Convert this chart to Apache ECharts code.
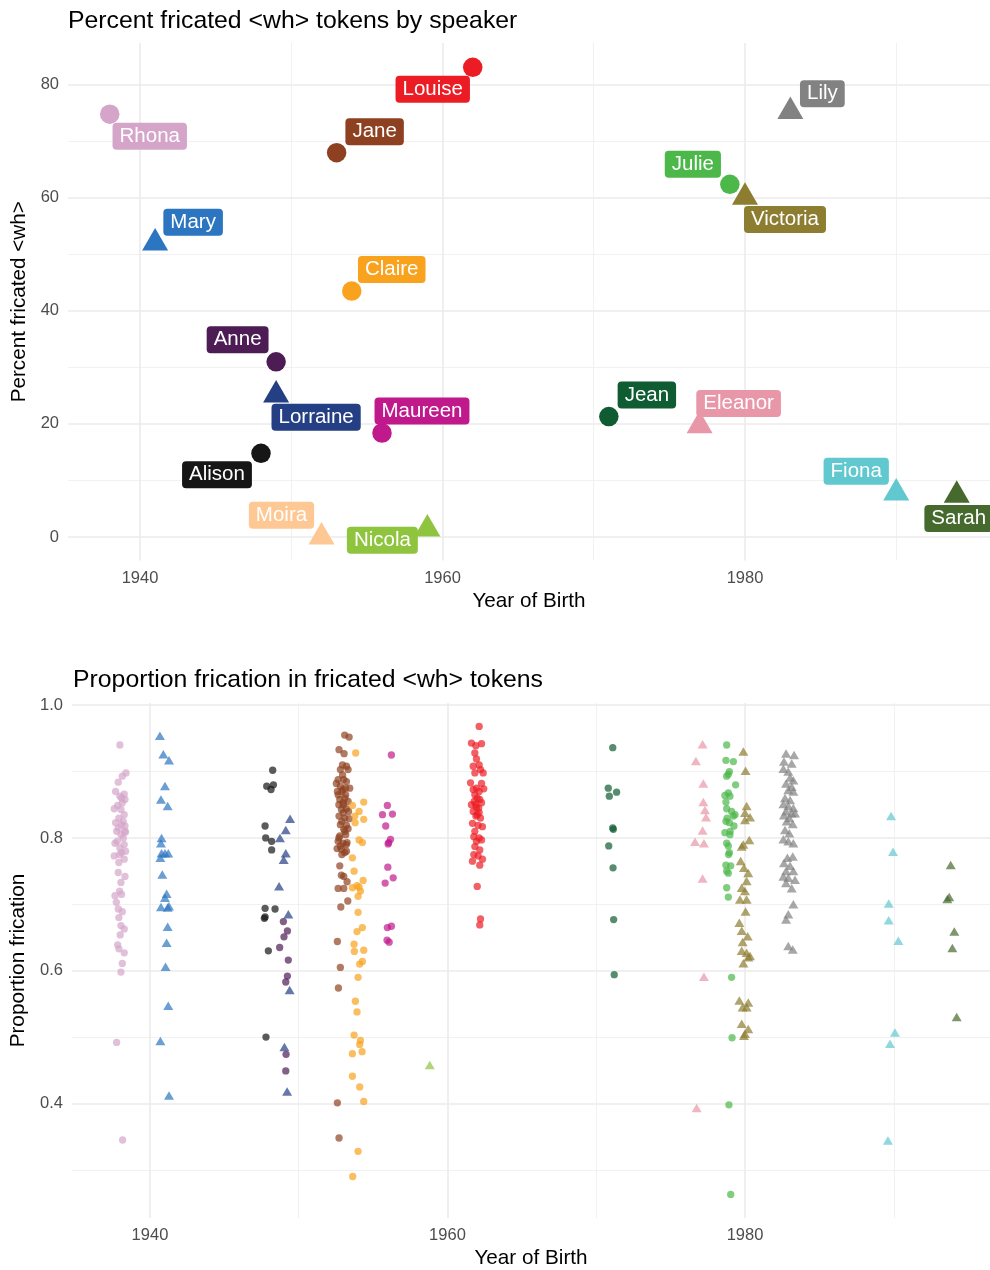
<!DOCTYPE html>
<html>
<head>
<meta charset="utf-8">
<script src="https://cdn.jsdelivr.net/npm/echarts@6/dist/echarts.min.js"></script>
<style>
  html, body { margin: 0; padding: 0; background: #fff; }
  #main { width: 990px; height: 1270px; }
</style>
</head>
<body>
<div id="main"></div>
<script>
// speakers, year of birth and percent fricated <wh> tokens (top panel)
var speakers = ['Rhona', 'Mary', 'Jane', 'Louise', 'Claire', 'Anne', 'Lorraine', 'Alison', 'Maureen',
  'Moira', 'Nicola', 'Jean', 'Eleanor', 'Julie', 'Victoria', 'Lily', 'Fiona', 'Sarah'];
var birthYear = [1938, 1941, 1953, 1962, 1954, 1949, 1949, 1948, 1956, 1952, 1959, 1971, 1977, 1979, 1980, 1983, 1990, 1994];
var percentFricated = [74.8, 52.0, 68.0, 83.1, 43.5, 31.0, 25.1, 14.8, 18.4, 0.0, 1.4, 21.3, 19.7, 62.4, 60.1, 75.3, 7.8, 7.4];
var speakerShape = ['circle', 'triangle', 'circle', 'circle', 'circle', 'circle', 'triangle', 'circle', 'circle',
  'triangle', 'triangle', 'circle', 'triangle', 'circle', 'triangle', 'triangle', 'triangle', 'triangle'];

// proportion frication per fricated token: [jittered year, proportion]
var tokensRhona = [[1937.98,0.940],[1938.39,0.898],[1938.14,0.893],[1937.87,0.884],[1937.69,0.870],[1938.27,0.866],[1937.98,0.863],[1938.32,0.858],[1938.14,0.853],[1937.83,0.849],[1937.60,0.844],[1938.05,0.843],[1938.27,0.835],[1937.91,0.830],[1937.69,0.823],[1938.09,0.820],[1938.32,0.818],[1937.87,0.815],[1937.76,0.810],[1938.36,0.809],[1938.05,0.805],[1938.21,0.800],[1937.65,0.792],[1938.27,0.790],[1937.98,0.785],[1938.36,0.780],[1938.09,0.778],[1937.60,0.773],[1938.27,0.768],[1937.91,0.763],[1937.87,0.748],[1938.32,0.742],[1938.05,0.733],[1937.96,0.720],[1937.65,0.713],[1938.09,0.715],[1937.74,0.703],[1937.87,0.693],[1938.14,0.689],[1937.91,0.680],[1938.05,0.668],[1938.27,0.663],[1938.00,0.654],[1937.83,0.639],[1937.91,0.633],[1938.27,0.627],[1938.14,0.611],[1938.05,0.598],[1937.76,0.492],[1938.16,0.345],[1938.20,0.825],[1937.80,0.795],[1938.10,0.860],[1937.95,0.775],[1938.30,0.810]];
var tokensMary = [[1940.67,0.952],[1940.90,0.924],[1941.28,0.915],[1941.01,0.876],[1940.74,0.856],[1941.19,0.846],[1940.78,0.798],[1940.74,0.790],[1940.78,0.775],[1940.70,0.768],[1941.01,0.775],[1941.23,0.775],[1940.83,0.743],[1941.12,0.714],[1941.01,0.708],[1940.74,0.694],[1941.19,0.693],[1941.28,0.695],[1941.19,0.664],[1941.12,0.640],[1941.05,0.604],[1941.23,0.545],[1940.70,0.492],[1941.28,0.410]];
var tokensJane = [[1953.09,0.955],[1953.39,0.952],[1952.71,0.933],[1953.05,0.927],[1952.94,0.910],[1953.21,0.908],[1952.80,0.903],[1953.32,0.903],[1952.65,0.888],[1953.03,0.888],[1952.53,0.882],[1953.21,0.885],[1952.80,0.878],[1953.43,0.875],[1952.98,0.873],[1952.65,0.865],[1953.16,0.865],[1952.76,0.858],[1953.32,0.855],[1952.98,0.853],[1952.87,0.843],[1953.21,0.844],[1952.71,0.833],[1953.09,0.830],[1953.39,0.829],[1952.80,0.820],[1953.21,0.819],[1953.03,0.813],[1953.32,0.814],[1952.76,0.803],[1953.16,0.805],[1952.65,0.795],[1952.98,0.792],[1953.25,0.793],[1952.58,0.784],[1952.87,0.783],[1953.09,0.778],[1953.21,0.780],[1952.80,0.788],[1952.76,0.758],[1952.87,0.744],[1953.03,0.742],[1953.25,0.734],[1952.65,0.724],[1953.03,0.724],[1953.30,0.705],[1952.83,0.696],[1952.60,0.644],[1952.80,0.605],[1952.67,0.574],[1952.60,0.401],[1952.71,0.348],[1952.90,0.870],[1953.10,0.860],[1952.70,0.850],[1953.00,0.838],[1952.90,0.825],[1953.10,0.810],[1952.70,0.800],[1953.20,0.790],[1952.90,0.775],[1953.00,0.850],[1952.60,0.870],[1953.35,0.840],[1952.95,0.895],[1953.15,0.875]];
var tokensLouise = [[1962.13,0.968],[1961.61,0.943],[1962.29,0.942],[1961.91,0.939],[1961.84,0.928],[1961.95,0.919],[1961.73,0.908],[1962.13,0.910],[1962.40,0.898],[1962.22,0.903],[1961.84,0.898],[1961.55,0.883],[1962.29,0.882],[1961.95,0.875],[1961.73,0.873],[1962.13,0.870],[1962.44,0.874],[1961.84,0.865],[1962.17,0.858],[1961.61,0.850],[1962.29,0.853],[1961.95,0.846],[1961.73,0.840],[1962.13,0.838],[1961.91,0.833],[1962.22,0.830],[1961.68,0.822],[1962.06,0.819],[1962.35,0.817],[1961.84,0.810],[1961.77,0.802],[1962.13,0.800],[1962.29,0.797],[1961.95,0.795],[1961.84,0.787],[1962.17,0.782],[1961.77,0.775],[1962.06,0.773],[1962.35,0.768],[1961.68,0.765],[1962.17,0.759],[1962.00,0.727],[1962.22,0.678],[1962.17,0.669],[1962.00,0.860],[1961.90,0.850],[1962.10,0.845],[1962.00,0.835],[1961.80,0.855]];
var tokensClaire = [[1953.83,0.928],[1954.37,0.854],[1953.61,0.849],[1954.06,0.840],[1953.77,0.833],[1954.37,0.828],[1953.79,0.823],[1954.06,0.797],[1954.28,0.793],[1953.61,0.770],[1953.72,0.750],[1954.33,0.736],[1953.92,0.728],[1953.61,0.725],[1954.06,0.726],[1954.15,0.720],[1953.99,0.712],[1953.99,0.688],[1954.28,0.665],[1953.92,0.659],[1953.72,0.640],[1954.37,0.631],[1953.74,0.629],[1954.28,0.614],[1954.10,0.610],[1953.99,0.590],[1953.81,0.554],[1953.92,0.538],[1953.72,0.503],[1954.15,0.495],[1954.10,0.489],[1953.61,0.475],[1954.26,0.478],[1953.61,0.441],[1954.10,0.425],[1954.37,0.403],[1953.99,0.328],[1953.63,0.290]];
var tokensAnne = [[1948.97,0.674],[1949.24,0.660],[1949.01,0.651],[1948.72,0.635],[1949.30,0.616],[1949.24,0.592],[1949.13,0.583],[1949.15,0.474],[1949.13,0.449]];
var tokensLorraine = [[1949.42,0.827],[1949.13,0.810],[1948.74,0.798],[1949.13,0.775],[1948.99,0.765],[1948.68,0.725],[1949.30,0.683],[1949.39,0.569],[1949.04,0.483],[1949.22,0.416]];
var tokensAlison = [[1948.25,0.902],[1947.85,0.878],[1948.30,0.880],[1948.14,0.873],[1947.74,0.818],[1947.78,0.800],[1948.18,0.795],[1948.18,0.782],[1947.74,0.694],[1948.41,0.693],[1947.69,0.679],[1947.74,0.681],[1947.96,0.630],[1947.80,0.500]];
var tokensMaureen = [[1956.23,0.925],[1955.96,0.849],[1955.63,0.835],[1956.30,0.836],[1955.85,0.818],[1956.17,0.798],[1956.05,0.793],[1956.01,0.791],[1955.99,0.756],[1956.35,0.740],[1955.81,0.732],[1956.23,0.667],[1955.96,0.665],[1955.94,0.646],[1956.08,0.643]];
var tokensMoira = [];
var tokensNicola = [[1958.81,0.456]];
var tokensJean = [[1971.11,0.936],[1970.81,0.875],[1971.37,0.869],[1970.88,0.863],[1971.11,0.815],[1971.15,0.813],[1970.84,0.788],[1971.13,0.755],[1971.17,0.677],[1971.21,0.594]];
var tokensEleanor = [[1977.15,0.939],[1976.70,0.914],[1977.20,0.880],[1977.20,0.852],[1977.31,0.840],[1977.38,0.829],[1977.15,0.809],[1976.64,0.792],[1977.24,0.790],[1977.15,0.737],[1977.24,0.589],[1976.75,0.391]];
var tokensJulie = [[1978.77,0.940],[1978.72,0.917],[1979.22,0.915],[1978.95,0.900],[1978.88,0.896],[1978.77,0.893],[1979.37,0.880],[1978.88,0.868],[1978.65,0.864],[1978.99,0.863],[1978.72,0.854],[1978.77,0.844],[1979.33,0.835],[1979.22,0.833],[1978.72,0.825],[1978.95,0.823],[1979.26,0.818],[1978.65,0.808],[1978.99,0.805],[1978.77,0.792],[1978.88,0.788],[1978.95,0.778],[1978.72,0.759],[1979.04,0.758],[1978.77,0.750],[1978.88,0.747],[1978.77,0.725],[1978.88,0.711],[1979.10,0.590],[1979.13,0.499],[1978.92,0.398],[1979.04,0.263],[1979.10,0.840],[1978.80,0.830],[1979.00,0.810],[1978.90,0.775]];
var tokensVictoria = [[1979.89,0.928],[1980.04,0.899],[1980.11,0.846],[1980.00,0.836],[1980.34,0.829],[1980.00,0.825],[1980.29,0.795],[1979.89,0.788],[1979.78,0.785],[1979.71,0.763],[1979.93,0.753],[1980.22,0.745],[1980.11,0.733],[1979.78,0.723],[1980.00,0.718],[1979.66,0.705],[1980.11,0.705],[1980.04,0.687],[1979.62,0.670],[1979.78,0.658],[1980.18,0.650],[1979.84,0.641],[1979.78,0.628],[1980.11,0.625],[1980.34,0.620],[1980.22,0.618],[1979.89,0.609],[1979.62,0.553],[1980.22,0.550],[1979.84,0.543],[1980.11,0.543],[1979.78,0.518],[1980.22,0.510],[1980.00,0.503],[1979.93,0.500]];
var tokensLily = [[1982.76,0.925],[1983.30,0.923],[1982.62,0.913],[1983.14,0.910],[1982.58,0.902],[1982.91,0.898],[1983.03,0.889],[1983.25,0.885],[1982.76,0.880],[1983.14,0.875],[1982.91,0.870],[1983.25,0.868],[1982.69,0.858],[1983.03,0.855],[1982.58,0.849],[1982.91,0.846],[1983.25,0.843],[1982.76,0.838],[1983.14,0.835],[1982.62,0.832],[1982.98,0.828],[1983.36,0.835],[1982.80,0.823],[1983.21,0.819],[1982.69,0.810],[1982.98,0.805],[1982.58,0.796],[1982.91,0.793],[1983.25,0.790],[1982.85,0.768],[1983.21,0.770],[1982.62,0.760],[1983.03,0.756],[1982.76,0.748],[1983.25,0.748],[1982.58,0.740],[1982.91,0.738],[1983.36,0.735],[1982.76,0.730],[1983.14,0.722],[1983.25,0.698],[1982.91,0.683],[1982.76,0.675],[1982.91,0.635],[1983.21,0.630]];
var tokensFiona = [[1989.82,0.831],[1989.95,0.777],[1989.66,0.699],[1989.66,0.674],[1990.31,0.643],[1990.08,0.505],[1989.75,0.488],[1989.61,0.342]];
var tokensSarah = [[1993.83,0.757],[1993.73,0.709],[1993.60,0.706],[1994.07,0.657],[1993.94,0.632],[1994.23,0.528]];

var tokensBySpeaker = {
  Rhona: tokensRhona, Mary: tokensMary, Jane: tokensJane, Louise: tokensLouise, Claire: tokensClaire,
  Anne: tokensAnne, Lorraine: tokensLorraine, Alison: tokensAlison, Maureen: tokensMaureen, Moira: tokensMoira,
  Nicola: tokensNicola, Jean: tokensJean, Eleanor: tokensEleanor, Julie: tokensJulie, Victoria: tokensVictoria,
  Lily: tokensLily, Fiona: tokensFiona, Sarah: tokensSarah
};

// tick labels
var yearTicks = [1940, 1960, 1980];
var yearMinorTicks = [1950, 1970, 1990];
var percentTicks = [0, 20, 40, 60, 80];
var percentMinorTicks = [10, 30, 50, 70];
var propTicks = [0.4, 0.6, 0.8, 1.0];
var propMinorTicks = [0.3, 0.5, 0.7, 0.9];

// colours per speaker (same order as speakers)
var speakerColors = ['#d4a5c9', '#2c75c0', '#8e4121', '#ec1c24', '#f8a21d', '#4d1c55', '#243f84', '#161616', '#c0198b',
  '#fdc894', '#8fc43f', '#0f5b32', '#e897a8', '#4cb84a', '#8d7d31', '#828282', '#62c8d0', '#466a2e'];

// where each label box sits relative to its point (px), like ggrepel put them
var labelNudge = {
  Rhona: [40, 22], Mary: [38, -17], Jane: [38, -21], Louise: [-40, 22], Claire: [40, -21.5],
  Anne: [-38.5, -22], Lorraine: [40, 26], Alison: [-44, 21.5], Maureen: [40, -22], Moira: [-40, -18],
  Nicola: [-45, 15], Jean: [38, -21.5], Eleanor: [39, -18.5], Julie: [-37, -20], Victoria: [40, 26],
  Lily: [32, -14], Fiona: [-40, -18], Sarah: [2, 27]
};

var FONT = '"Liberation Sans", Arial, Helvetica, sans-serif';
var chart = echarts.init(document.getElementById('main'));

function majorX(grid, min, max) {
  return {
    type: 'value', gridIndex: grid, min: min, max: max,
    name: 'Year of Birth', nameLocation: 'middle', nameGap: 30,
    nameTextStyle: { fontSize: 20.7, color: '#000', fontFamily: FONT },
    axisLine: { show: false },
    axisTick: { show: false, customValues: yearTicks },
    axisLabel: {
      customValues: yearTicks, fontSize: 16.5, color: '#4d4d4d', margin: 9, fontFamily: FONT,
      formatter: function (v) { return String(v); }
    },
    splitLine: { show: true, lineStyle: { color: '#ebebeb', width: 1.6 } }
  };
}
function minorAxis(grid, min, max, ticks, pos) {
  return {
    type: 'value', gridIndex: grid, min: min, max: max, position: pos,
    axisLine: { show: false },
    axisTick: { show: false, customValues: ticks },
    axisLabel: { show: false, customValues: ticks },
    splitLine: { show: true, lineStyle: { color: '#eeeeee', width: 0.8 } }
  };
}

var series = [];
speakers.forEach(function (name, i) {
  var tri = speakerShape[i] === 'triangle';
  series.push({
    type: 'scatter', name: name, xAxisIndex: 0, yAxisIndex: 0, z: 3,
    symbol: speakerShape[i],
    symbolSize: tri ? [26, 22.5] : 19.5,
    symbolOffset: tri ? [0, -3.75] : [0, 0],
    itemStyle: { color: speakerColors[i], opacity: 1 },
    emphasis: { disabled: true },
    label: {
      show: true, position: 'inside', offset: labelNudge[name], formatter: name,
      color: '#fff', backgroundColor: speakerColors[i], padding: [3, 7], borderRadius: 4,
      fontSize: 20.5, lineHeight: 21, fontFamily: FONT
    },
    data: [[birthYear[i], percentFricated[i]]]
  });
});
speakers.forEach(function (name, i) {
  var tri = speakerShape[i] === 'triangle';
  series.push({
    type: 'scatter', name: name + ' tokens', xAxisIndex: 2, yAxisIndex: 2, z: 2,
    symbol: speakerShape[i],
    symbolSize: tri ? [10, 8.5] : 7.3,
    symbolOffset: tri ? [0, -1.4] : [0, 0],
    itemStyle: { color: speakerColors[i], opacity: 0.7 },
    emphasis: { disabled: true },
    data: tokensBySpeaker[name]
  });
});

var option = {
  animation: false,
  backgroundColor: '#fff',
  textStyle: { fontFamily: FONT },
  title: [
    { text: 'Percent fricated <wh> tokens by speaker', left: 68, top: 9, padding: 0,
      textStyle: { fontSize: 24.8, fontWeight: 'normal', color: '#000', fontFamily: FONT } },
    { text: 'Proportion frication in fricated <wh> tokens', left: 73, top: 668, padding: 0,
      textStyle: { fontSize: 24.8, fontWeight: 'normal', color: '#000', fontFamily: FONT } }
  ],
  grid: [
    { left: 68, top: 43, right: 0, height: 517.5 },
    { left: 72, top: 703, right: 0, height: 517 }
  ],
  xAxis: [
    majorX(0, 1935.24, 1996.2),
    minorAxis(0, 1935.24, 1996.2, yearMinorTicks, 'top'),
    majorX(1, 1934.76, 1996.47),
    minorAxis(1, 1934.76, 1996.47, yearMinorTicks, 'top')
  ],
  yAxis: [
    {
      type: 'value', gridIndex: 0, min: -4.16, max: 87.4,
      name: 'Percent fricated <wh>', nameLocation: 'middle', nameGap: 36,
      nameTextStyle: { fontSize: 20.7, color: '#000', fontFamily: FONT },
      axisLine: { show: false },
      axisTick: { show: false, customValues: percentTicks },
      axisLabel: { customValues: percentTicks, fontSize: 16.5, color: '#4d4d4d', margin: 9, fontFamily: FONT },
      splitLine: { show: true, lineStyle: { color: '#ebebeb', width: 1.6 } }
    },
    minorAxis(0, -4.16, 87.4, percentMinorTicks, 'right'),
    {
      type: 'value', gridIndex: 1, min: 0.2275, max: 1.0033,
      name: 'Proportion frication', nameLocation: 'middle', nameGap: 40,
      nameTextStyle: { fontSize: 20.7, color: '#000', fontFamily: FONT },
      axisLine: { show: false },
      axisTick: { show: false, customValues: propTicks },
      axisLabel: {
        customValues: propTicks, fontSize: 16.5, color: '#4d4d4d', margin: 9, fontFamily: FONT,
        formatter: function (v) { return v.toFixed(1); }
      },
      splitLine: { show: true, lineStyle: { color: '#ebebeb', width: 1.6 } }
    },
    minorAxis(1, 0.2275, 1.0033, propMinorTicks, 'right')
  ],
  series: series
};

chart.setOption(option);
</script>
</body>
</html>
